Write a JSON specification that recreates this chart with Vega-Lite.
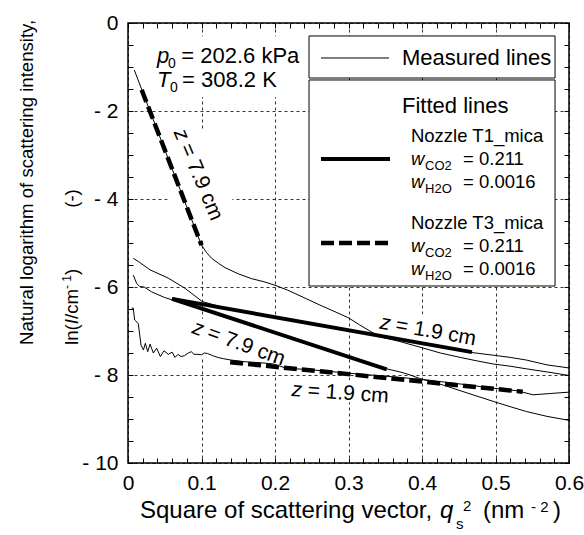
{
  "$schema": "https://vega.github.io/schema/vega-lite/v6.json",
  "width": 441,
  "height": 440,
  "autosize": {"type": "none"},
  "padding": {"left": 128, "top": 23, "right": 15, "bottom": 72},
  "background": "white",
  "config": {
    "view": {"stroke": "black", "strokeWidth": 1.5},
    "font": "Liberation Sans",
    "axis": {"labelFont": "Liberation Sans", "labelColor": "black", "title": null, "domain": false, "labelFlush": false, "labelOverlap": false, "labelBound": false}
  },
  "resolve": {"axis": {"x": "independent", "y": "independent"}},
  "datasets": {
    "boxes": [
      {"x": 0.03, "x2": 0.245, "y": -0.3, "y2": -1.68},
      {"x": 0.054, "x2": 0.142, "y": -2.43, "y2": -4.95},
      {"x": 0.088, "x2": 0.215, "y": -6.72, "y2": -7.6},
      {"x": 0.34, "x2": 0.468, "y": -6.62, "y2": -7.35},
      {"x": 0.22, "x2": 0.35, "y": -8.12, "y2": -8.62}
    ],
    "legbox": [
      {"x": 0.2463, "x2": 0.581, "y": -0.295, "y2": -1.25},
      {"x": 0.2463, "x2": 0.581, "y": -1.295, "y2": -5.977}
    ],
    "meas": [
      {"s": "A", "x": 0.0086, "y": -1.07}, {"s": "A", "x": 0.02, "y": -1.57}, {"s": "A", "x": 0.05, "y": -2.88}, {"s": "A", "x": 0.08, "y": -4.18}, {"s": "A", "x": 0.1, "y": -5.05}, {"s": "A", "x": 0.107, "y": -5.22}, {"s": "A", "x": 0.114, "y": -5.35}, {"s": "A", "x": 0.123, "y": -5.46}, {"s": "A", "x": 0.132, "y": -5.56}, {"s": "A", "x": 0.15, "y": -5.7}, {"s": "A", "x": 0.168, "y": -5.81}, {"s": "A", "x": 0.185, "y": -5.88}, {"s": "A", "x": 0.2, "y": -5.96}, {"s": "A", "x": 0.217, "y": -6.07}, {"s": "A", "x": 0.234, "y": -6.2}, {"s": "A", "x": 0.261, "y": -6.41}, {"s": "A", "x": 0.28, "y": -6.55}, {"s": "A", "x": 0.3, "y": -6.7}, {"s": "A", "x": 0.315, "y": -6.86}, {"s": "A", "x": 0.329, "y": -7.0}, {"s": "A", "x": 0.343, "y": -7.13}, {"s": "A", "x": 0.37, "y": -7.24}, {"s": "A", "x": 0.4, "y": -7.38}, {"s": "A", "x": 0.425, "y": -7.5}, {"s": "A", "x": 0.452, "y": -7.6}, {"s": "A", "x": 0.475, "y": -7.68}, {"s": "A", "x": 0.497, "y": -7.75}, {"s": "A", "x": 0.52, "y": -7.8}, {"s": "A", "x": 0.542, "y": -7.86}, {"s": "A", "x": 0.57, "y": -7.93}, {"s": "A", "x": 0.6, "y": -8.01},
      {"s": "B", "x": 0.0072, "y": -5.35}, {"s": "B", "x": 0.014, "y": -5.42}, {"s": "B", "x": 0.03, "y": -5.61}, {"s": "B", "x": 0.055, "y": -5.8}, {"s": "B", "x": 0.0776, "y": -6.03}, {"s": "B", "x": 0.101, "y": -6.33}, {"s": "B", "x": 0.13, "y": -6.47}, {"s": "B", "x": 0.15, "y": -6.53}, {"s": "B", "x": 0.2, "y": -6.68}, {"s": "B", "x": 0.25, "y": -6.83}, {"s": "B", "x": 0.3, "y": -6.98}, {"s": "B", "x": 0.35, "y": -7.14}, {"s": "B", "x": 0.4, "y": -7.29}, {"s": "B", "x": 0.45, "y": -7.43}, {"s": "B", "x": 0.468, "y": -7.49}, {"s": "B", "x": 0.497, "y": -7.55}, {"s": "B", "x": 0.52, "y": -7.6}, {"s": "B", "x": 0.542, "y": -7.66}, {"s": "B", "x": 0.57, "y": -7.77}, {"s": "B", "x": 0.6, "y": -7.84},
      {"s": "C", "x": 0.0072, "y": -5.73}, {"s": "C", "x": 0.0118, "y": -5.92}, {"s": "C", "x": 0.016, "y": -5.99}, {"s": "C", "x": 0.022, "y": -6.0}, {"s": "C", "x": 0.032, "y": -6.11}, {"s": "C", "x": 0.05, "y": -6.24}, {"s": "C", "x": 0.06, "y": -6.29}, {"s": "C", "x": 0.1, "y": -6.5}, {"s": "C", "x": 0.15, "y": -6.77}, {"s": "C", "x": 0.2, "y": -7.04}, {"s": "C", "x": 0.25, "y": -7.31}, {"s": "C", "x": 0.3, "y": -7.58}, {"s": "C", "x": 0.352, "y": -7.86}, {"s": "C", "x": 0.37, "y": -7.93}, {"s": "C", "x": 0.384, "y": -8.0}, {"s": "C", "x": 0.397, "y": -8.08}, {"s": "C", "x": 0.429, "y": -8.23}, {"s": "C", "x": 0.46, "y": -8.4}, {"s": "C", "x": 0.497, "y": -8.6}, {"s": "C", "x": 0.52, "y": -8.72}, {"s": "C", "x": 0.542, "y": -8.83}, {"s": "C", "x": 0.57, "y": -8.94}, {"s": "C", "x": 0.6, "y": -9.03},
      {"s": "D", "x": 0.005, "y": -6.48}, {"s": "D", "x": 0.0072, "y": -6.48}, {"s": "D", "x": 0.009, "y": -6.75}, {"s": "D", "x": 0.014, "y": -6.83}, {"s": "D", "x": 0.0177, "y": -7.32}, {"s": "D", "x": 0.021, "y": -7.43}, {"s": "D", "x": 0.0236, "y": -7.28}, {"s": "D", "x": 0.0268, "y": -7.47}, {"s": "D", "x": 0.03, "y": -7.3}, {"s": "D", "x": 0.0345, "y": -7.5}, {"s": "D", "x": 0.039, "y": -7.39}, {"s": "D", "x": 0.044, "y": -7.58}, {"s": "D", "x": 0.049, "y": -7.45}, {"s": "D", "x": 0.0549, "y": -7.53}, {"s": "D", "x": 0.06, "y": -7.48}, {"s": "D", "x": 0.064, "y": -7.6}, {"s": "D", "x": 0.068, "y": -7.53}, {"s": "D", "x": 0.072, "y": -7.58}, {"s": "D", "x": 0.077, "y": -7.56}, {"s": "D", "x": 0.082, "y": -7.5}, {"s": "D", "x": 0.086, "y": -7.47}, {"s": "D", "x": 0.09, "y": -7.53}, {"s": "D", "x": 0.095, "y": -7.53}, {"s": "D", "x": 0.1, "y": -7.54}, {"s": "D", "x": 0.104, "y": -7.5}, {"s": "D", "x": 0.108, "y": -7.51}, {"s": "D", "x": 0.115, "y": -7.56}, {"s": "D", "x": 0.122, "y": -7.6}, {"s": "D", "x": 0.13, "y": -7.63}, {"s": "D", "x": 0.14, "y": -7.66}, {"s": "D", "x": 0.16, "y": -7.7}, {"s": "D", "x": 0.18, "y": -7.72}, {"s": "D", "x": 0.198, "y": -7.75}, {"s": "D", "x": 0.216, "y": -7.85}, {"s": "D", "x": 0.24, "y": -7.87}, {"s": "D", "x": 0.275, "y": -7.92}, {"s": "D", "x": 0.3, "y": -7.96}, {"s": "D", "x": 0.33, "y": -8.0}, {"s": "D", "x": 0.36, "y": -8.04}, {"s": "D", "x": 0.4, "y": -8.1}, {"s": "D", "x": 0.45, "y": -8.2}, {"s": "D", "x": 0.497, "y": -8.3}, {"s": "D", "x": 0.53, "y": -8.36}, {"s": "D", "x": 0.551, "y": -8.45}, {"s": "D", "x": 0.575, "y": -8.42}, {"s": "D", "x": 0.6, "y": -8.39},
      {"s": "L", "x": 0.2626, "y": -0.795}, {"s": "L", "x": 0.3551, "y": -0.795}
    ],
    "fitsolid": [
      {"s": "a", "x": 0.06, "y": -6.27}, {"s": "a", "x": 0.352, "y": -7.87},
      {"s": "b", "x": 0.06, "y": -6.27}, {"s": "b", "x": 0.468, "y": -7.48},
      {"s": "L", "x": 0.2626, "y": -3.09}, {"s": "L", "x": 0.3565, "y": -3.09}
    ],
    "fitdash": [
      {"s": "a", "x": 0.0186, "y": -1.52}, {"s": "a", "x": 0.1, "y": -5.05},
      {"s": "b", "x": 0.139, "y": -7.71}, {"s": "b", "x": 0.537, "y": -8.38},
      {"s": "L", "x": 0.2626, "y": -5.0}, {"s": "L", "x": 0.3605, "y": -5.0}
    ],
    "tn22": [
      {"x": 0.0725, "y": -0.909, "t": "= 202.6 kPa"},
      {"x": 0.0735, "y": -1.4545, "t": "= 308.2 K"},
      {"x": 0.3728, "y": -0.955, "t": "Measured lines"},
      {"x": 0.3728, "y": -2.05, "t": "Fitted lines"}
    ],
    "ti22": [
      {"x": 0.0395, "y": -0.909, "t": "p"},
      {"x": 0.0395, "y": -1.4545, "t": "T"}
    ],
    "ts14": [
      {"x": 0.0544, "y": -1.023, "t": "0"},
      {"x": 0.0572, "y": -1.568, "t": "0"}
    ],
    "tn18": [
      {"x": 0.385, "y": -2.697, "t": "Nozzle T1_mica"},
      {"x": 0.4558, "y": -3.216, "t": "= 0.211"},
      {"x": 0.4558, "y": -3.739, "t": "= 0.0016"},
      {"x": 0.385, "y": -4.689, "t": "Nozzle T3_mica"},
      {"x": 0.4558, "y": -5.197, "t": "= 0.211"},
      {"x": 0.4558, "y": -5.727, "t": "= 0.0016"}
    ],
    "ti18": [
      {"x": 0.385, "y": -3.216, "t": "w"},
      {"x": 0.385, "y": -3.739, "t": "w"},
      {"x": 0.385, "y": -5.197, "t": "w"},
      {"x": 0.385, "y": -5.727, "t": "w"}
    ],
    "ts13": [
      {"x": 0.4041, "y": -3.33, "t": "CO2"},
      {"x": 0.4041, "y": -3.853, "t": "H2O"},
      {"x": 0.4041, "y": -5.31, "t": "CO2"},
      {"x": 0.4041, "y": -5.84, "t": "H2O"}
    ],
    "xtn": [
      {"x": 0.0163, "y": -11.25, "t": "Square of scattering vector,"},
      {"x": 0.483, "y": -11.25, "t": "(nm"},
      {"x": 0.5782, "y": -11.25, "t": ")"}
    ],
    "xti": [
      {"x": 0.4245, "y": -11.25, "t": "q"}
    ],
    "xts": [
      {"x": 0.4463, "y": -11.5, "t": "s"},
      {"x": 0.4558, "y": -11.1, "t": "2"},
      {"x": 0.5483, "y": -11.12, "t": "- 2"}
    ],
    "ytn": [
      {"x": -0.1293, "y": -7.318, "t": "Natural logarithm of scattering intensity,"},
      {"x": -0.068, "y": -7.318, "t": "ln("},
      {"x": -0.068, "y": -6.727, "t": "/cm"},
      {"x": -0.068, "y": -5.727, "t": ")"},
      {"x": -0.068, "y": -4.2, "t": "(-)"}
    ],
    "yti": [
      {"x": -0.068, "y": -6.848, "t": "I"}
    ],
    "yts": [
      {"x": -0.0776, "y": -6.045, "t": "- 1"}
    ],
    "z1": [{"x": 0.0694, "y": -2.432}],
    "z2": [{"x": 0.0884, "y": -6.909}],
    "z3": [{"x": 0.343, "y": -6.81}],
    "z4": [{"x": 0.2227, "y": -8.34}]
  },
  "layer": [
    {
      "data": {"name": "boxes"},
      "mark": {"type": "rect", "fill": "white", "strokeWidth": 0},
      "encoding": {
        "x": {"field": "x", "type": "quantitative", "scale": {"domain": [0, 0.6], "nice": false, "zero": false},
          "axis": {"orient": "bottom", "values": [0, 0.1, 0.2, 0.3, 0.4, 0.5, 0.6], "ticks": false, "grid": true, "gridDash": [3, 3], "gridColor": "black", "gridWidth": 0.8, "gridOpacity": 1, "labelFontSize": 21, "labelPadding": 9, "labelExpr": "datum.value == 0 ? '0' : format(datum.value, '.1f')"}},
        "x2": {"field": "x2"},
        "y": {"field": "y", "type": "quantitative", "scale": {"domain": [-10, 0], "nice": false, "zero": false},
          "axis": {"orient": "left", "values": [0, -2, -4, -6, -8, -10], "ticks": false, "grid": true, "gridDash": [3, 3], "gridColor": "black", "gridWidth": 0.8, "gridOpacity": 1, "labelFontSize": 21, "labelPadding": 10, "labelExpr": "datum.value == 0 ? '0' : '- ' + format(-datum.value, 'd')"}},
        "y2": {"field": "y2"}
      }
    },
    {
      "data": {"name": "legbox"},
      "mark": {"type": "rect", "fill": "white", "stroke": "black", "strokeWidth": 1},
      "encoding": {
        "x": {"field": "x", "type": "quantitative", "axis": null},
        "x2": {"field": "x2"},
        "y": {"field": "y", "type": "quantitative", "axis": null},
        "y2": {"field": "y2"}
      }
    },
    {
      "data": {"name": "meas"},
      "mark": {"type": "line", "stroke": "black", "strokeWidth": 1},
      "encoding": {
        "x": {"field": "x", "type": "quantitative",
          "axis": {"orient": "bottom", "values": [0, 0.02, 0.04, 0.06, 0.08, 0.1, 0.12, 0.14, 0.16, 0.18, 0.2, 0.22, 0.24, 0.26, 0.28, 0.3, 0.32, 0.34, 0.36, 0.38, 0.4, 0.42, 0.44, 0.46, 0.48, 0.5, 0.52, 0.54, 0.56, 0.58, 0.6], "labels": false, "ticks": true, "tickSize": -5, "tickColor": "black", "tickWidth": 1, "grid": false}},
        "y": {"field": "y", "type": "quantitative",
          "axis": {"orient": "left", "values": [0, -0.5, -1, -1.5, -2, -2.5, -3, -3.5, -4, -4.5, -5, -5.5, -6, -6.5, -7, -7.5, -8, -8.5, -9, -9.5, -10], "labels": false, "ticks": true, "tickSize": -5, "tickColor": "black", "tickWidth": 1, "grid": false}},
        "detail": {"field": "s", "type": "nominal"}
      }
    },
    {
      "data": {"name": "fitsolid"},
      "mark": {"type": "line", "stroke": "black", "strokeWidth": 4, "strokeCap": "butt"},
      "encoding": {
        "x": {"field": "x", "type": "quantitative",
          "axis": {"orient": "top", "values": [0, 0.02, 0.04, 0.06, 0.08, 0.1, 0.12, 0.14, 0.16, 0.18, 0.2, 0.22, 0.24, 0.26, 0.28, 0.3, 0.32, 0.34, 0.36, 0.38, 0.4, 0.42, 0.44, 0.46, 0.48, 0.5, 0.52, 0.54, 0.56, 0.58, 0.6], "labels": false, "ticks": true, "tickSize": -5, "tickColor": "black", "tickWidth": 1, "grid": false}},
        "y": {"field": "y", "type": "quantitative",
          "axis": {"orient": "right", "values": [0, -0.5, -1, -1.5, -2, -2.5, -3, -3.5, -4, -4.5, -5, -5.5, -6, -6.5, -7, -7.5, -8, -8.5, -9, -9.5, -10], "labels": false, "ticks": true, "tickSize": -5, "tickColor": "black", "tickWidth": 1, "grid": false}},
        "detail": {"field": "s", "type": "nominal"}
      }
    },
    {
      "data": {"name": "fitdash"},
      "mark": {"type": "line", "stroke": "black", "strokeWidth": 4.5, "strokeCap": "butt", "strokeDash": [13, 5]},
      "encoding": {
        "x": {"field": "x", "type": "quantitative", "axis": null},
        "y": {"field": "y", "type": "quantitative", "axis": null},
        "detail": {"field": "s", "type": "nominal"}
      }
    },
    {
      "data": {"name": "tn22"},
      "mark": {"type": "text", "font": "Liberation Sans", "fontSize": 22, "align": "left", "baseline": "alphabetic", "color": "black"},
      "encoding": {"x": {"field": "x", "type": "quantitative", "axis": null}, "y": {"field": "y", "type": "quantitative", "axis": null}, "text": {"field": "t"}}
    },
    {
      "data": {"name": "ti22"},
      "mark": {"type": "text", "font": "Liberation Sans", "fontSize": 22, "fontStyle": "italic", "align": "left", "baseline": "alphabetic", "color": "black"},
      "encoding": {"x": {"field": "x", "type": "quantitative", "axis": null}, "y": {"field": "y", "type": "quantitative", "axis": null}, "text": {"field": "t"}}
    },
    {
      "data": {"name": "ts14"},
      "mark": {"type": "text", "font": "Liberation Sans", "fontSize": 14, "align": "left", "baseline": "alphabetic", "color": "black"},
      "encoding": {"x": {"field": "x", "type": "quantitative", "axis": null}, "y": {"field": "y", "type": "quantitative", "axis": null}, "text": {"field": "t"}}
    },
    {
      "data": {"name": "tn18"},
      "mark": {"type": "text", "font": "Liberation Sans", "fontSize": 18.5, "align": "left", "baseline": "alphabetic", "color": "black"},
      "encoding": {"x": {"field": "x", "type": "quantitative", "axis": null}, "y": {"field": "y", "type": "quantitative", "axis": null}, "text": {"field": "t"}}
    },
    {
      "data": {"name": "ti18"},
      "mark": {"type": "text", "font": "Liberation Sans", "fontSize": 18.5, "fontStyle": "italic", "align": "left", "baseline": "alphabetic", "color": "black"},
      "encoding": {"x": {"field": "x", "type": "quantitative", "axis": null}, "y": {"field": "y", "type": "quantitative", "axis": null}, "text": {"field": "t"}}
    },
    {
      "data": {"name": "ts13"},
      "mark": {"type": "text", "font": "Liberation Sans", "fontSize": 13, "align": "left", "baseline": "alphabetic", "color": "black"},
      "encoding": {"x": {"field": "x", "type": "quantitative", "axis": null}, "y": {"field": "y", "type": "quantitative", "axis": null}, "text": {"field": "t"}}
    },
    {
      "data": {"name": "xtn"},
      "mark": {"type": "text", "font": "Liberation Sans", "fontSize": 24, "align": "left", "baseline": "alphabetic", "color": "black"},
      "encoding": {"x": {"field": "x", "type": "quantitative", "axis": null}, "y": {"field": "y", "type": "quantitative", "axis": null}, "text": {"field": "t"}}
    },
    {
      "data": {"name": "xti"},
      "mark": {"type": "text", "font": "Liberation Sans", "fontSize": 24, "fontStyle": "italic", "align": "left", "baseline": "alphabetic", "color": "black"},
      "encoding": {"x": {"field": "x", "type": "quantitative", "axis": null}, "y": {"field": "y", "type": "quantitative", "axis": null}, "text": {"field": "t"}}
    },
    {
      "data": {"name": "xts"},
      "mark": {"type": "text", "font": "Liberation Sans", "fontSize": 15, "align": "left", "baseline": "alphabetic", "color": "black"},
      "encoding": {"x": {"field": "x", "type": "quantitative", "axis": null}, "y": {"field": "y", "type": "quantitative", "axis": null}, "text": {"field": "t"}}
    },
    {
      "data": {"name": "ytn"},
      "mark": {"type": "text", "font": "Liberation Sans", "fontSize": 18.6, "angle": 270, "align": "left", "baseline": "alphabetic", "color": "black"},
      "encoding": {"x": {"field": "x", "type": "quantitative", "axis": null}, "y": {"field": "y", "type": "quantitative", "axis": null}, "text": {"field": "t"}}
    },
    {
      "data": {"name": "yti"},
      "mark": {"type": "text", "font": "Liberation Sans", "fontSize": 18.6, "fontStyle": "italic", "angle": 270, "align": "left", "baseline": "alphabetic", "color": "black"},
      "encoding": {"x": {"field": "x", "type": "quantitative", "axis": null}, "y": {"field": "y", "type": "quantitative", "axis": null}, "text": {"field": "t"}}
    },
    {
      "data": {"name": "yts"},
      "mark": {"type": "text", "font": "Liberation Sans", "fontSize": 12, "angle": 270, "align": "left", "baseline": "alphabetic", "color": "black"},
      "encoding": {"x": {"field": "x", "type": "quantitative", "axis": null}, "y": {"field": "y", "type": "quantitative", "axis": null}, "text": {"field": "t"}}
    },
    {
      "data": {"name": "z1"},
      "mark": {"type": "text", "font": "Liberation Sans", "fontSize": 21, "fontStyle": "italic", "angle": 67, "align": "left", "baseline": "middle", "color": "black"},
      "encoding": {"x": {"field": "x", "type": "quantitative", "axis": null}, "y": {"field": "y", "type": "quantitative", "axis": null}, "text": {"value": "z"}}
    },
    {
      "data": {"name": "z1"},
      "mark": {"type": "text", "font": "Liberation Sans", "fontSize": 21, "angle": 67, "align": "left", "baseline": "middle", "dx": 16, "color": "black"},
      "encoding": {"x": {"field": "x", "type": "quantitative", "axis": null}, "y": {"field": "y", "type": "quantitative", "axis": null}, "text": {"value": "= 7.9 cm"}}
    },
    {
      "data": {"name": "z2"},
      "mark": {"type": "text", "font": "Liberation Sans", "fontSize": 21, "fontStyle": "italic", "angle": 20, "align": "left", "baseline": "middle", "color": "black"},
      "encoding": {"x": {"field": "x", "type": "quantitative", "axis": null}, "y": {"field": "y", "type": "quantitative", "axis": null}, "text": {"value": "z"}}
    },
    {
      "data": {"name": "z2"},
      "mark": {"type": "text", "font": "Liberation Sans", "fontSize": 21, "angle": 20, "align": "left", "baseline": "middle", "dx": 16, "color": "black"},
      "encoding": {"x": {"field": "x", "type": "quantitative", "axis": null}, "y": {"field": "y", "type": "quantitative", "axis": null}, "text": {"value": "= 7.9 cm"}}
    },
    {
      "data": {"name": "z3"},
      "mark": {"type": "text", "font": "Liberation Sans", "fontSize": 21, "fontStyle": "italic", "angle": 10, "align": "left", "baseline": "middle", "color": "black"},
      "encoding": {"x": {"field": "x", "type": "quantitative", "axis": null}, "y": {"field": "y", "type": "quantitative", "axis": null}, "text": {"value": "z"}}
    },
    {
      "data": {"name": "z3"},
      "mark": {"type": "text", "font": "Liberation Sans", "fontSize": 21, "angle": 10, "align": "left", "baseline": "middle", "dx": 16, "color": "black"},
      "encoding": {"x": {"field": "x", "type": "quantitative", "axis": null}, "y": {"field": "y", "type": "quantitative", "axis": null}, "text": {"value": "= 1.9 cm"}}
    },
    {
      "data": {"name": "z4"},
      "mark": {"type": "text", "font": "Liberation Sans", "fontSize": 21, "fontStyle": "italic", "angle": 4, "align": "left", "baseline": "middle", "color": "black"},
      "encoding": {"x": {"field": "x", "type": "quantitative", "axis": null}, "y": {"field": "y", "type": "quantitative", "axis": null}, "text": {"value": "z"}}
    },
    {
      "data": {"name": "z4"},
      "mark": {"type": "text", "font": "Liberation Sans", "fontSize": 21, "angle": 4, "align": "left", "baseline": "middle", "dx": 16, "color": "black"},
      "encoding": {"x": {"field": "x", "type": "quantitative", "axis": null}, "y": {"field": "y", "type": "quantitative", "axis": null}, "text": {"value": "= 1.9 cm"}}
    }
  ]
}
